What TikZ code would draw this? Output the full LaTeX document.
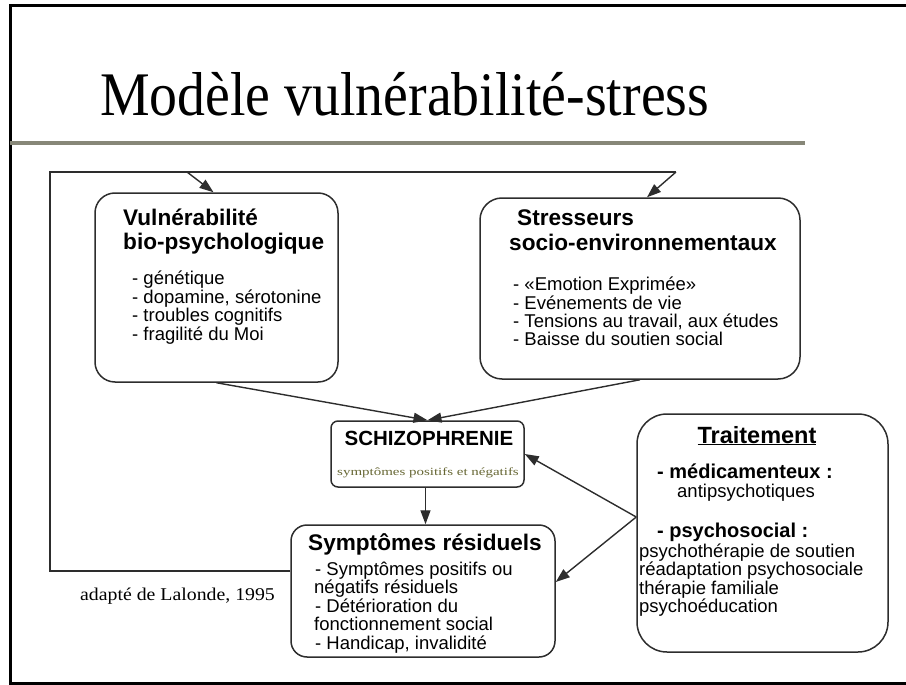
\documentclass[tikz,border=0pt]{standalone}
\usepackage{fontspec}
\setmainfont{Liberation Serif}
\setsansfont{Liberation Sans}
\usetikzlibrary{arrows.meta}
\definecolor{rulegray}{RGB}{135,135,120}
\definecolor{olivetxt}{RGB}{102,102,51}
\definecolor{linecol}{RGB}{45,45,45}
\begin{document}
\begin{tikzpicture}[x=1pt,y=-1pt,
  box/.style={draw=linecol, line width=1.5pt, rectangle, inner sep=0pt},
  lnk/.style={draw=linecol, line width=1.4pt},
  arr/.style={lnk, -{Triangle[length=14pt,width=10pt]}},
  hd/.style={font=\sffamily\bfseries\fontsize{22.6}{24}\selectfont, anchor=base west, inner sep=0pt},
  tx/.style={font=\sffamily\fontsize{18.5}{20}\selectfont, anchor=base west, inner sep=0pt},
  bt/.style={font=\sffamily\bfseries\fontsize{20}{22}\selectfont, anchor=base west, inner sep=0pt}]
\useasboundingbox (0,0) rectangle (906,685);
% frame
\draw[line width=3pt] (906,6) -- (10,6) -- (10,683) -- (906,683);
% title
\node[anchor=base west, inner sep=0pt, font=\fontsize{62}{64}\selectfont] (title) at (100,116) {\scalebox{0.9}[1]{Modèle vulnérabilité-stress}};
\draw[line width=4pt, rulegray] (10,143) -- (805,143);

% boxes
\node[box, rounded corners=20pt, minimum width=243pt, minimum height=189pt] (vul) at (216.5,287.5) {};
\node[box, rounded corners=22pt, minimum width=320pt, minimum height=181pt] (str) at (640,288.5) {};
\node[box, rounded corners=7pt, minimum width=193pt, minimum height=66pt] (sch) at (427.5,454) {};
\node[box, rounded corners=16pt, minimum width=264pt, minimum height=132pt] (sr) at (423,591) {};
\node[box, rounded corners=30pt, minimum width=251pt, minimum height=238pt] (tr) at (762.5,533) {};

% vulnerabilite text
\node[hd] (v1) at (123,225) {Vulnérabilité};
\node[hd] (v2) at (123,249) {bio-psychologique};
\node[tx] (v3) at (132,284) {- génétique};
\node[tx] (v4) at (132,303) {- dopamine, sérotonine};
\node[tx] (v5) at (132,321.5) {- troubles cognitifs};
\node[tx] (v6) at (132,340.5) {- fragilité du Moi};

% stresseurs text
\node[hd] (s1) at (517,225) {Stresseurs};
\node[hd] (s2) at (509,250.5) {socio-environnementaux};
\node[tx] (s3) at (513,290.5) {- «Emotion Exprimée»};
\node[tx] (s4) at (513,309) {- Evénements de vie};
\node[tx] (s5) at (513,327.5) {- Tensions au travail, aux études};
\node[tx] (s6) at (513,345.5) {- Baisse du soutien social};

% schizophrenie text
\node[font=\sffamily\bfseries\fontsize{20.5}{22}\selectfont, anchor=base, inner sep=0pt] (c1) at (429,445) {SCHIZOPHRENIE};
\node[font=\fontsize{11}{12}\selectfont, anchor=base, inner sep=0pt, text=olivetxt] (c2) at (428,475) {\scalebox{1.36}[1]{symptômes positifs et négatifs}};

% symptomes residuels text
\node[hd] (r1) at (308,550) {Symptômes résiduels};
\node[tx] (r2) at (315,575) {- Symptômes positifs ou};
\node[tx] (r3) at (314,593.5) {négatifs résiduels};
\node[tx] (r4) at (315,612) {- Détérioration du};
\node[tx] (r5) at (314,630.5) {fonctionnement social};
\node[tx] (r6) at (315,649) {- Handicap, invalidité};

% traitement text
\node[font=\sffamily\bfseries\fontsize{23.5}{26}\selectfont, anchor=base, inner sep=0pt] (t1) at (757,443) {\underline{Traitement}};
\node[bt] (t2) at (657,478) {- médicamenteux :};
\node[tx] (t3) at (677,497) {antipsychotiques};
\node[bt] (t4) at (657,537) {- psychosocial :};
\node[tx] (t5) at (639,557) {psychothérapie de soutien};
\node[tx] (t6) at (639,575.5) {réadaptation psychosociale};
\node[tx] (t7) at (639,594) {thérapie familiale};
\node[tx] (t8) at (639,612) {psychoéducation};

% source
\node[anchor=base west, inner sep=0pt, font=\fontsize{18}{20}\selectfont] (src) at (80,600.5) {\scalebox{1.1}[1]{adapté de Lalonde, 1995}};

% connectors
\draw[arr] (vul.south) -- (sch.north);
\draw[arr] (str.south) -- (sch.north);
\draw[arr] ([xshift=-2pt]sch.south) -- ([xshift=-2pt]sch.south |- sr.north);
\coordinate (tp) at ([yshift=16pt]tr.west);
\draw[arr] (tp) -- (sch.east);
\draw[arr] (tp) -- ([yshift=9pt]sr.east);

% feedback loop
\coordinate (lb) at (50,571);
\coordinate (lt) at (50,172);
\coordinate (la) at (187,172);
\coordinate (rt) at (676,172);
\draw[lnk] ([yshift=20pt]sr.west) -- (lb) -- (lt) -- (rt);
\draw[arr] (la) -- ([xshift=-3pt]vul.north);
\draw[arr] (rt) -- ([xshift=7pt]str.north);
\end{tikzpicture}
\end{document}
